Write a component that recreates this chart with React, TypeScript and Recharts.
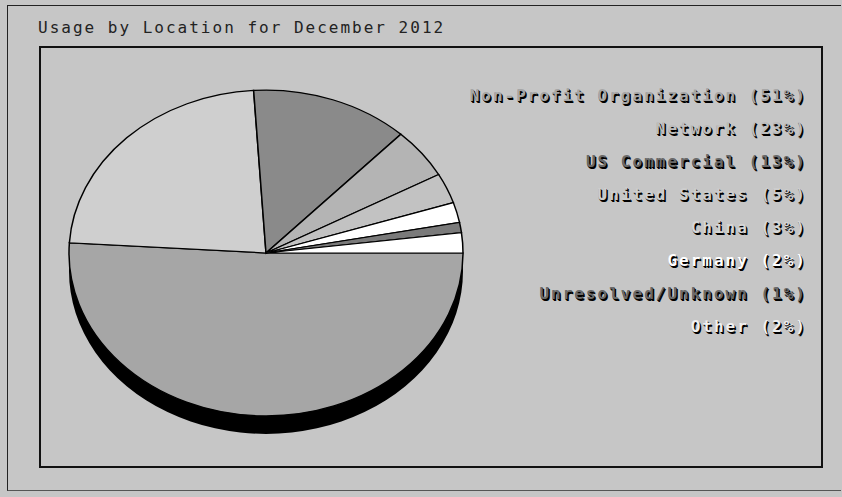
import React from "react";
import { PieChart, Pie, Cell, Legend, Sector } from "recharts";

const categories = [
  "Non-Profit Organization",
  "Network",
  "US Commercial",
  "United States",
  "China",
  "Germany",
  "Unresolved/Unknown",
  "Other",
];
const shares = [51, 23, 13, 5, 3, 2, 1, 2];
const sliceColors = ["#a6a6a6", "#cfcfcf", "#8a8a8a", "#b4b4b4", "#c2c2c2", "#ffffff", "#7a7a7a", "#ffffff"];
const textColors = ["#a6a6a6", "#bdbdbd", "#6a6a6a", "#cdcdcd", "#d6d6d6", "#ffffff", "#6a6a6a", "#f0f0f0"];
const title = "Usage by Location for December 2012";

const data = categories.map((name, i) => ({ name, value: shares[i] }));
const shadowData = [{ name: "shadow", value: 1 }];

const W = 842;
const H = 497;
const CX = 266;
const CY = 253;
const R = 197;
const SY = 0.827;
const FONT = "'DejaVu Sans Mono', 'Liberation Mono', monospace";

const EllipseSector = (props: any) => {
  const { cx, cy } = props;
  return (
    <g transform={`translate(${cx} ${cy}) scale(1 ${SY}) translate(${-cx} ${-cy})`}>
      <Sector {...props} />
    </g>
  );
};

const renderLegend = (props: any) => {
  const payload = (props.payload || [])
    .filter((p: any) => p.type !== "none" && categories.indexOf(p.value) >= 0)
    .slice()
    .sort((a: any, b: any) => categories.indexOf(a.value) - categories.indexOf(b.value));
  return (
    <div style={{ textAlign: "right" }}>
      {payload.map((p: any) => {
        const idx = categories.indexOf(p.value);
        return (
          <div
            key={p.value}
            style={{
              height: 33,
              lineHeight: "33px",
              fontFamily: FONT,
              fontWeight: "bold",
              fontSize: 16,
              letterSpacing: 2,
              whiteSpace: "nowrap",
              color: textColors[idx] || p.color,
              textShadow: "1.5px 1.5px 0 #000, 0.5px 0.5px 0 #000",
            }}
          >
            {`${p.value} (${shares[idx]}%)`}
          </div>
        );
      })}
    </div>
  );
};

export default function App() {
  return (
    <div
      style={{
        position: "fixed",
        left: 0,
        top: 0,
        width: W,
        height: H,
        background: "#c6c6c6",
        overflow: "hidden",
      }}
    >
      <div
        style={{
          position: "absolute",
          left: 7,
          top: 5,
          width: 834,
          height: 486,
          borderLeft: "1px solid #222",
          borderTop: "1px solid #222",
          borderBottom: "1px solid #555",
          boxSizing: "border-box",
        }}
      />
      <div
        style={{
          position: "absolute",
          left: 39,
          top: 46,
          width: 784,
          height: 422,
          border: "2px solid #111",
          boxSizing: "border-box",
        }}
      />
      <div
        style={{
          position: "absolute",
          left: 38,
          top: 18,
          fontFamily: FONT,
          fontSize: 16,
          letterSpacing: 2,
          color: "#222",
          lineHeight: "20px",
          whiteSpace: "nowrap",
        }}
      >
        {title}
      </div>
      <div style={{ position: "absolute", left: 0, top: 0 }}>
        <PieChart width={W} height={H} margin={{ top: 0, right: 0, bottom: 0, left: 0 }}>
          <Pie
            data={shadowData}
            dataKey="value"
            cx={CX}
            cy={CY + 18}
            outerRadius={R}
            startAngle={0}
            endAngle={-360}
            stroke="none"
            fill="#000"
            legendType="none"
            isAnimationActive={false}
            inactiveShape={EllipseSector}
            shape={EllipseSector}
          />
          <Pie
            data={data}
            dataKey="value"
            nameKey="name"
            cx={CX}
            cy={CY}
            outerRadius={R}
            startAngle={0}
            endAngle={-360}
            stroke="#000"
            strokeWidth={1.5}
            isAnimationActive={false}
            inactiveShape={EllipseSector}
            shape={EllipseSector}
          >
            {data.map((d, i) => (
              <Cell key={d.name} fill={sliceColors[i]} />
            ))}
          </Pie>
          <Legend
            content={renderLegend}
            layout="vertical"
            align="right"
            verticalAlign="top"
            wrapperStyle={{ position: "absolute", top: 79, right: 35, left: "auto", width: "auto" }}
          />
        </PieChart>
      </div>
    </div>
  );
}
